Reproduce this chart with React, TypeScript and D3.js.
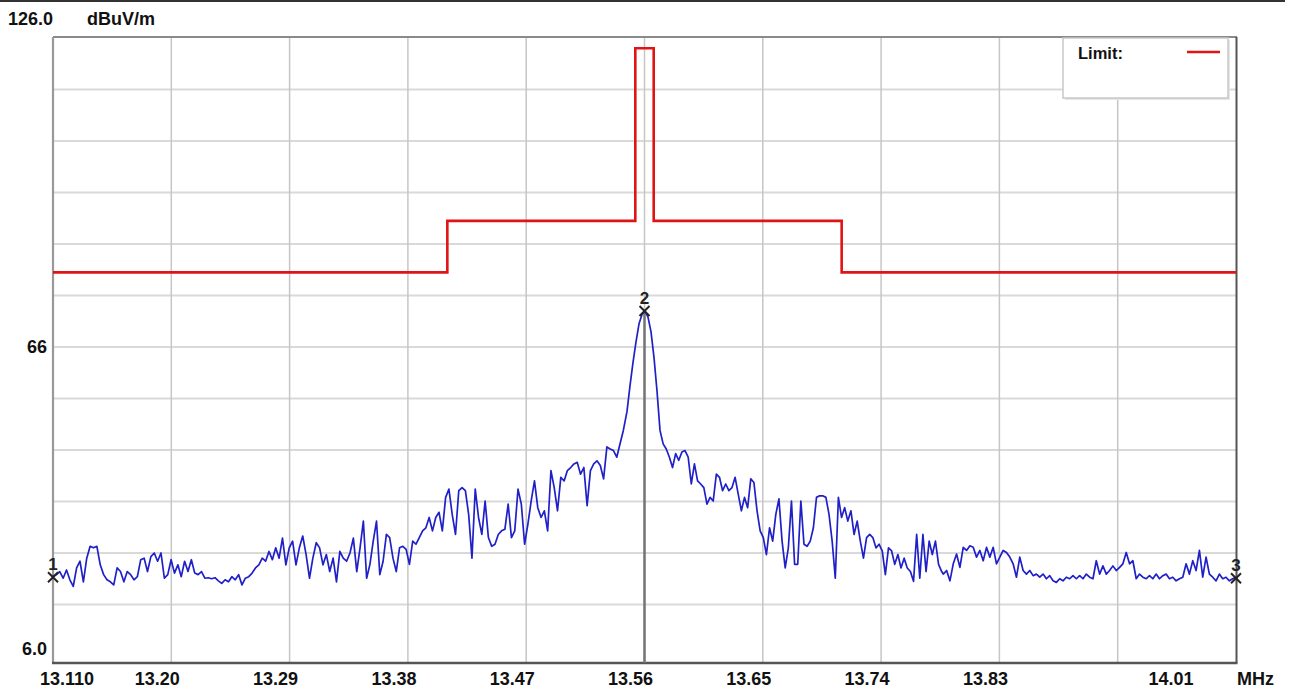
import React from "react";
import * as d3 from "d3";

// ---------- data ----------
const FREQ_DOMAIN = [13.11, 14.01];
const LEVEL_DOMAIN = [6, 126];

const gridFreqs = [13.2, 13.29, 13.38, 13.47, 13.56, 13.65, 13.74, 13.83, 13.92];
const gridLevels = [16, 26, 36, 46, 56, 66, 76, 86, 96, 106, 116];

const xTickValues = [13.11, 13.2, 13.29, 13.38, 13.47, 13.56, 13.65, 13.74, 13.83, 14.01];
const xTickLabels = ["13.110", "13.20", "13.29", "13.38", "13.47", "13.56", "13.65", "13.74", "13.83", "14.01"];
const yTickValues = [66, 6];
const yTickLabels = ["66", "6.0"];

const limitFreqs = [13.11, 13.41, 13.41, 13.553, 13.553, 13.567, 13.567, 13.71, 13.71, 14.01];
const limitLevels = [80.5, 80.5, 90.5, 90.5, 124, 124, 90.5, 90.5, 80.5, 80.5];

// measured trace, read in five frequency segments
const segA = [21.5, 21.8, 22.4, 21.1, 22.7, 20.8, 19.5, 23.1, 24.4, 20.4, 25, 27.3, 27, 27.3, 23.7, 21.8, 20.8, 20.4, 19.8, 23.1, 22.4, 20.4, 22.4, 21.8, 20.8, 21.4, 24.7, 25, 22.4, 25.3, 26, 24.4, 26, 21.1, 21.8, 24.7, 22.1, 23.7, 21.4, 24.4, 22.4, 24.7, 22.1, 21.8, 22.4, 21.1, 21.2, 21, 21.2, 20.6, 20.1, 20.8, 20.4, 21.4, 20.8, 21.8, 19.8, 21.1, 21.4, 22.1, 23.1, 23.7, 25, 24.4, 26.3, 24.7, 27, 25, 28.9, 23.7, 27, 28.3, 23.7, 27, 29.3, 25.7, 21.1, 25, 28, 27, 23.7, 25.7, 22.4, 25, 20.4, 26.3, 25, 24.4, 26, 28.9];
const segAFreq = [13.11, 13.3385];
const segB = [22.4, 27, 32.2, 21.1, 23.8, 28.3, 32.2, 21.8, 24.4, 29.6, 29, 25, 22.4, 27, 27.3, 26.7, 23.8, 28.3, 27.7, 29, 30.3, 30.9, 32.9, 30.3, 32.9, 33.9, 30.3, 36.8, 38.4, 33.5, 29.6, 38.1, 38.7, 38.1, 33.5, 25, 38.4, 32.9, 29.6, 36.1, 29, 27.3, 27.7, 29.6, 30.3, 30.6, 35.5, 29, 30.3, 38.4, 35.5, 27.7, 31.6, 36.1, 40, 34.8, 32.9, 34.2, 30.3, 42, 38.7, 34.2, 40.7, 40, 42, 42.6, 43.3, 43.6, 41.3, 42.6, 35.2, 42, 43.3, 43.9, 43, 40.4, 46.6, 46.2, 45.9, 44.6, 47.2, 49.8];
const segBFreq = [13.3411, 13.5439];
const segC = [53.5, 58.5, 63, 67, 70.5, 72.3, 73, 71.8, 69, 64, 57.5];
const segCFreq = [13.5467, 13.5695];
const segD = [49.8, 47.2, 46.2, 44.6, 42.6, 45.3, 44, 45.6, 45.9, 44.6, 39.4, 43.3, 40, 39.4, 38.7, 35.5, 36.8, 36.1, 41.3, 40.7, 38.1, 39.4, 38.1, 38.7, 40.7, 37.4, 34.2, 36.8, 34.8, 40.4, 39.7, 34.2, 30.3, 29, 25.7, 30.9, 28.3, 33.5, 36.5, 28.3, 23.1, 27, 36.1, 23.8, 23.8, 36.1, 27.7, 27.3, 28.3, 30.9, 36.8, 37.1, 37.1, 36.8, 33.5, 28.3, 21.1, 36.8, 32.9, 34.8, 32.2, 34.2, 29.6, 32.2, 28.3, 25, 29, 29.6, 29, 27, 27.7, 26.4, 21.8, 27, 26.4, 23.8, 25.7, 23.1, 25, 23.1, 22.4, 20.5, 29.6, 21.1, 29.6, 22.4, 28.3, 25.7, 28.3, 23.8, 22.4];
const segDFreq = [13.5718, 13.7861];
const segE = [21.9, 22.6, 20.6, 23.9, 25.8, 23.2, 27.1, 26.5, 27.4, 27.1, 25.2, 26.5, 24.5, 27.1, 25.2, 27.1, 23.9, 25.2, 26.5, 26.1, 25.2, 23.9, 21.3, 25.2, 22.6, 21.9, 22.6, 21.6, 21.9, 21.3, 21.9, 21, 21.6, 20.6, 20.3, 21, 20.6, 21.3, 21, 21.6, 21, 21.6, 21, 21.9, 21.3, 21, 24.5, 21.9, 23.5, 21.9, 22.6, 23.5, 22.6, 23.2, 23.9, 26.1, 23.9, 24.5, 21, 21.9, 21.3, 21, 21.6, 21, 21.9, 21, 21.6, 21.9, 21, 21.3, 20.6, 21, 21.3, 23.9, 21.9, 24.5, 22.6, 26.5, 21.3, 25.2, 21.9, 21.3, 20.6, 21.9, 21, 21.3, 20.6, 21, 21.3];
const segEFreq = [13.7873, 14.01];

const markerIds = ["1", "2", "3"];
const markerFreqs = [13.11, 13.56, 14.01];
const markerLevels = [21.3, 73, 21.1];

// ---------- helpers ----------
function spread(vals: number[], range: number[]) {
  const n = vals.length;
  return vals.map((v, i) => ({
    f: range[0] + ((range[1] - range[0]) * i) / (n - 1),
    v,
  }));
}

const tracePoints = [
  ...spread(segA, segAFreq),
  ...spread(segB, segBFreq),
  ...spread(segC, segCFreq),
  ...spread(segD, segDFreq),
  ...spread(segE, segEFreq),
];

const FONT = "'Liberation Sans', Arial, sans-serif";

export default function App() {
  const x = d3.scaleLinear().domain(FREQ_DOMAIN).range([53, 1236]);
  const y = d3.scaleLinear().domain(LEVEL_DOMAIN).range([656, 38]);
  const top = 37;
  const bottom = 663;

  const traceLine = d3
    .line<{ f: number; v: number }>()
    .x((d) => x(d.f))
    .y((d) => y(d.v));
  const limitLine = d3
    .line<number>()
    .x((_, i) => x(limitFreqs[i]))
    .y((d) => y(d));

  const labelDx = (i: number) => (i === 0 ? 14 : i === xTickValues.length - 1 ? -65 : -14);

  return (
    <svg
      width={1290}
      height={693}
      style={{ position: "absolute", left: 0, top: 0, background: "#fff" }}
      fontFamily={FONT}
    >
      <rect x={0} y={0} width={1290} height={693} fill="#fff" />
      <line x1={0} x2={1285} y1={1} y2={1} stroke="#333" strokeWidth={2.2} />

      {/* grid */}
      {gridLevels.map((l) => (
        <line key={"h" + l} x1={x(FREQ_DOMAIN[0])} x2={x(FREQ_DOMAIN[1])} y1={y(l)} y2={y(l)} stroke="#d9d9d9" strokeWidth={2} />
      ))}
      {gridFreqs.map((f) => (
        <line key={"v" + f} x1={x(f)} x2={x(f)} y1={top} y2={bottom} stroke="#c6c6c6" strokeWidth={1.5} />
      ))}

      {/* frame */}
      <line x1={x(FREQ_DOMAIN[0])} x2={x(FREQ_DOMAIN[1]) + 1} y1={top} y2={top} stroke="#8a8a8a" strokeWidth={2} />
      <line x1={x(FREQ_DOMAIN[0])} x2={x(FREQ_DOMAIN[0])} y1={top} y2={bottom} stroke="#999" strokeWidth={2.2} />
      <line x1={x(FREQ_DOMAIN[1]) + 0.5} x2={x(FREQ_DOMAIN[1]) + 0.5} y1={top} y2={bottom} stroke="#555" strokeWidth={2} />
      <line x1={x(FREQ_DOMAIN[0]) - 1} x2={x(FREQ_DOMAIN[1]) + 1.5} y1={bottom} y2={bottom} stroke="#555" strokeWidth={2.5} />

      {/* marker 2 drop line */}
      <line x1={x(markerFreqs[1])} x2={x(markerFreqs[1])} y1={y(markerLevels[1])} y2={bottom} stroke="#747474" strokeWidth={2.5} />

      {/* limit */}
      <path d={limitLine(limitLevels) || ""} fill="none" stroke="#e01414" strokeWidth={2.6} />

      {/* trace */}
      <path d={traceLine(tracePoints) || ""} fill="none" stroke="#2020c8" strokeWidth={1.7} strokeLinejoin="round" />

      {/* markers */}
      {markerIds.map((id, i) => {
        const cx = x(markerFreqs[i]);
        const cy = y(markerLevels[i]);
        return (
          <g key={"m" + id}>
            <line x1={cx - 5} x2={cx + 5} y1={cy - 5} y2={cy + 5} stroke="#222" strokeWidth={2} />
            <line x1={cx - 5} x2={cx + 5} y1={cy + 5} y2={cy - 5} stroke="#222" strokeWidth={2} />
            <text x={cx} y={cy - 7} textAnchor="middle" fontSize={17} fontWeight="bold" fill="#222">
              {id}
            </text>
          </g>
        );
      })}

      {/* legend */}
      <rect x={1065} y={40} width={165} height={60} fill="#e6e6e6" />
      <rect x={1063} y={38} width={165} height={60} fill="#fff" stroke="#c8c8c8" strokeWidth={1.5} />
      <text x={1078} y={59} fontSize={16.5} fontWeight="bold" fill="#111">Limit:</text>
      <line x1={1187} x2={1220} y1={52} y2={52} stroke="#e01414" strokeWidth={2.6} />

      {/* header */}
      <text x={8} y={25} fontSize={18} fontWeight="bold" fill="#111">126.0</text>
      <text x={87} y={25} fontSize={18} fontWeight="bold" fill="#111">dBuV/m</text>

      {/* y labels */}
      {yTickValues.map((v, i) => (
        <text key={"yl" + i} x={47} y={y(v) + (i === 0 ? 6 : -1)} textAnchor="end" fontSize={18} fontWeight="bold" fill="#111">
          {yTickLabels[i]}
        </text>
      ))}

      {/* x labels */}
      {xTickValues.map((v, i) => (
        <text key={"xl" + i} x={x(v) + labelDx(i)} y={685} textAnchor="middle" fontSize={18} fontWeight="bold" fill="#111">
          {xTickLabels[i]}
        </text>
      ))}
      <text x={1237} y={685} fontSize={18} fontWeight="bold" fill="#111">MHz</text>
    </svg>
  );
}
